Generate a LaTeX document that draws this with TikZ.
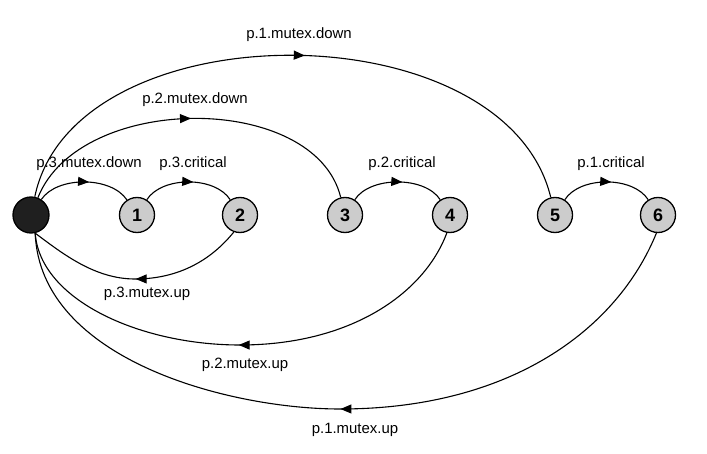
\documentclass[tikz,border=0pt]{standalone}
\usepackage{fontspec}
\setmainfont{Liberation Sans}
\usetikzlibrary{arrows.meta,decorations.markings}
\begin{document}
\begin{tikzpicture}[x=1bp,y=-1bp,
  st/.style={circle,draw,line width=1.3bp,fill=gray!40,minimum size=35bp,inner sep=0pt,
    font=\fontsize{18}{18}\selectfont\bfseries},
  lbl/.style={font=\fontsize{15}{17}\selectfont,inner sep=0pt},
  conn/.style={line width=1.1bp,postaction={decorate},
    decoration={markings,mark=at position #1 with {\arrow{Triangle[length=11bp,width=9bp]}}}},
  conn/.default=0.5]
\useasboundingbox (0,0) rectangle (707,454);
% states
\node[st,fill=black!88,minimum size=36bp] (n0) at (31,215) {};
\node[st] (n1) at (137,215) {1};
\node[st] (n2) at (240,215) {2};
\node[st] (n3) at (345,215) {3};
\node[st] (n4) at (450,215) {4};
\node[st] (n5) at (555,215) {5};
\node[st] (n6) at (658,215) {6};
% short arcs
\draw[conn=0.55] (n0) .. controls (57,176) and (111,176) .. (n1);
\draw[conn=0.55] (n1) .. controls (162,176) and (215,176) .. (n2);
\draw[conn=0.55] (n3) .. controls (370,176) and (425,176) .. (n4);
\draw[conn=0.55] (n5) .. controls (580,176) and (633,176) .. (n6);
% long upper arcs
\draw[conn=0.5] (n0) .. controls (80,92) and (315,92) .. (n3);
\draw[conn=0.52] (n0) .. controls (74,8) and (505,8) .. (n5);
% lower arcs
\draw[conn=0.5] (n2.250) .. controls (212,259) and (180,279) .. (135,279)
  .. controls (95,279) and (63,254) .. (n0.283);
\draw[conn=0.5] (n4.260) .. controls (424,294) and (350,345) .. (240,345)
  .. controls (140,345) and (40,300) .. (n0.283);
\draw[conn=0.5] (n6.265) .. controls (617,330) and (510,409) .. (340,409)
  .. controls (230,409) and (40,360) .. (n0.283);
% labels
\node[lbl] (l1) at (299,35) {p.1.mutex.down};
\node[lbl] (l2) at (195,100) {p.2.mutex.down};
\node[lbl] (l3) at (89,164) {p.3.mutex.down};
\node[lbl] (l4) at (193,164) {p.3.critical};
\node[lbl] (l5) at (402,164) {p.2.critical};
\node[lbl] (l6) at (611,164) {p.1.critical};
\node[lbl] (l7) at (147,294) {p.3.mutex.up};
\node[lbl] (l8) at (245,365) {p.2.mutex.up};
\node[lbl] (l9) at (355,430) {p.1.mutex.up};
\end{tikzpicture}
\end{document}
